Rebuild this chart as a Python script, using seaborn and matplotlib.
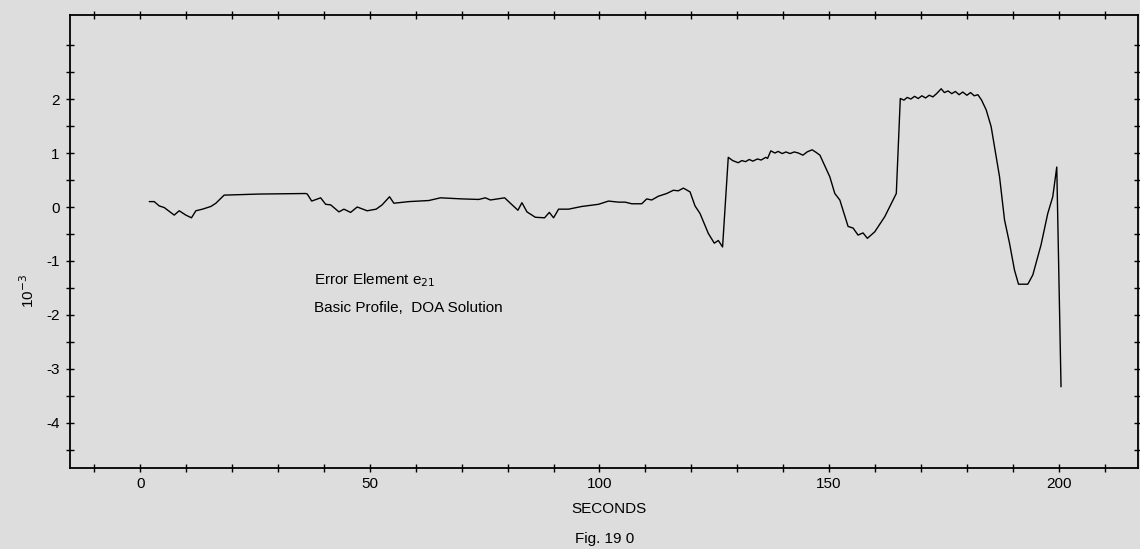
import numpy as np
import matplotlib
matplotlib.use("Agg")
import matplotlib.pyplot as plt
import seaborn as sns

# Error element e21 (units of 10^-3)
seconds = [1.96, 3.04, 4.13, 5.22, 7.39, 8.48, 9.93, 11.15, 12.11, 13.54, 15.37, 16.46,
           18.26, 25.87, 36.02, 36.37, 37.33, 39.28, 40.37, 41.46, 43.26, 44.35, 45.80,
           47.24, 49.41, 51.37, 52.67, 54.28, 55.22, 58.48, 62.83, 65.37, 70.07, 73.70,
           75.15, 76.24, 79.35, 80.59, 82.24, 83.11, 84.20, 86.02, 88.04, 89.07, 90.00,
           91.09, 93.26, 96.15, 99.78, 101.96, 104.13, 105.59, 107.02, 109.20, 110.28,
           111.37, 112.83, 114.63, 116.09, 117.17, 118.26, 119.72, 120.80, 121.89, 123.70,
           125.00, 125.87, 126.80, 128.04, 129.0, 130.2, 131.0, 131.8, 132.6, 133.4, 134.4,
           135.2, 136.2, 136.6, 137.3, 138.2, 138.9, 139.8, 140.6, 141.5, 142.4, 143.3,
           144.3, 145.2, 146.3, 147.2, 148.0, 150.15, 151.24, 152.33, 154.13, 155.22,
           156.30, 157.39, 158.33, 159.93, 162.11, 164.28, 164.63, 165.5, 166.3, 167.0,
           167.8, 168.6, 169.4, 170.2, 171.0, 171.8, 172.6, 173.4, 174.4, 175.1, 175.9,
           176.7, 177.5, 178.3, 179.1, 180.0, 180.8, 181.6, 182.4, 183.2, 184.2, 185.28,
           187.11, 188.20, 189.28, 190.37, 191.24, 193.26, 194.35, 196.15, 197.61, 198.70,
           199.57, 200.50]
error_e21 = [0.10, 0.10, 0.02, -0.01, -0.15, -0.07, -0.15, -0.20, -0.07, -0.04, 0.01, 0.07,
             0.22, 0.24, 0.25, 0.24, 0.11, 0.17, 0.05, 0.04, -0.09, -0.04, -0.10,
             0.00, -0.07, -0.04, 0.04, 0.19, 0.07, 0.10, 0.12, 0.17, 0.15, 0.14,
             0.17, 0.13, 0.17, 0.07, -0.06, 0.08, -0.09, -0.19, -0.20, -0.10, -0.20,
             -0.04, -0.04, 0.01, 0.05, 0.11, 0.09, 0.09, 0.06, 0.06, 0.15,
             0.13, 0.20, 0.25, 0.31, 0.30, 0.35, 0.28, 0.02, -0.12, -0.49,
             -0.67, -0.62, -0.74, 0.92, 0.86, 0.82, 0.86, 0.84, 0.88, 0.85, 0.89,
             0.87, 0.92, 0.90, 1.04, 1.00, 1.03, 0.99, 1.02, 0.99, 1.02, 1.00,
             0.96, 1.02, 1.06, 1.01, 0.96, 0.56, 0.25, 0.13, -0.36, -0.39,
             -0.52, -0.48, -0.58, -0.46, -0.18, 0.19, 0.25, 2.01, 1.98, 2.03,
             2.00, 2.05, 2.01, 2.06, 2.02, 2.07, 2.04, 2.10, 2.19, 2.12, 2.15,
             2.10, 2.14, 2.08, 2.13, 2.07, 2.12, 2.06, 2.08, 1.98, 1.80, 1.49,
             0.56, -0.24, -0.67, -1.17, -1.43, -1.43, -1.26, -0.70, -0.12, 0.19,
             0.74, -3.33]

x_labels = [0, 50, 100, 150, 200]
y_labels = [2, 1, 0, -1, -2, -3, -4]

sns.set_style("ticks")
plt.rcParams["font.family"] = ["Liberation Sans", "DejaVu Sans"]
plt.rcParams["axes.unicode_minus"] = False
plt.rcParams["text.color"] = "black"
plt.rcParams["axes.labelcolor"] = "black"

bg = "#dddddd"
fig = plt.figure(figsize=(11.4, 5.49), dpi=100, facecolor=bg)
ax = fig.add_axes([0.061, 0.148, 0.937, 0.825], facecolor=bg)

sns.lineplot(x=seconds, y=error_e21, ax=ax, color="black", linewidth=1.0, sort=False)

ax.set_xlim(-15.4, 217.2)
ax.set_ylim(-4.83, 3.56)

# ticks every 10 s with labels only every 50 s
ax.set_xticks(np.arange(-10, 220, 10))
ax.set_xticklabels([str(int(v)) if v in x_labels else "" for v in np.arange(-10, 220, 10)])
ax.set_yticks(np.arange(-4.5, 3.5, 0.5))
ax.set_yticklabels([str(int(v)) if v in y_labels else "" for v in np.arange(-4.5, 3.5, 0.5)])
ax.tick_params(direction="inout", length=6, width=1.0, colors="black",
               top=True, right=True, labelsize=11, pad=4)

for s in ax.spines.values():
    s.set_visible(True)
    s.set_color("black")
    s.set_linewidth(1.3)

ax.set_ylabel("10$^{-3}$", fontsize=11, rotation=90)
ax.yaxis.set_label_coords(-0.03, 0.39)
ax.set_xlabel("SECONDS", fontsize=11)
ax.xaxis.set_label_coords(0.505, -0.075)
fig.text(0.504, 0.011, "Fig. 19 0", fontsize=11)

ax.text(37.8, -1.44, "Error Element e$_{21}$", fontsize=11)
ax.text(37.8, -1.95, "Basic Profile,  DOA Solution", fontsize=11)

fig.savefig("out.png", dpi=100, facecolor=bg)
